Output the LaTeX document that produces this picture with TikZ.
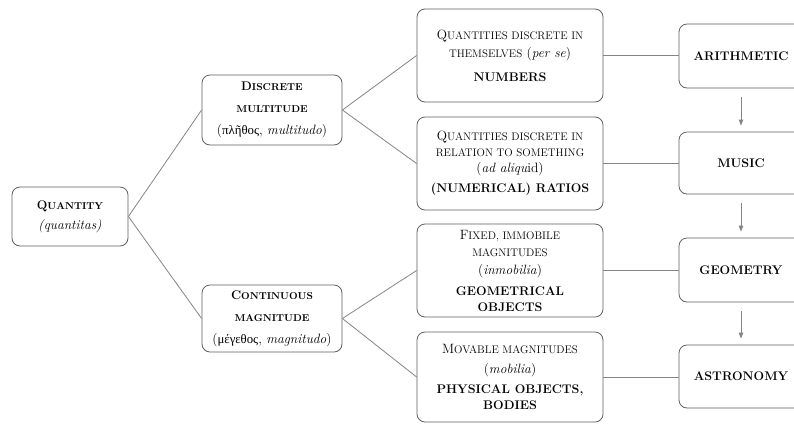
\documentclass[tikz,border=0pt]{standalone}
\usepackage{fontspec}
\newfontfamily\grk{Liberation Serif}[Scale=0.95]
\usetikzlibrary{arrows.meta}
\definecolor{bord}{HTML}{606060}
\definecolor{connc}{HTML}{858585}
\definecolor{txt}{HTML}{000000}
\newcommand\smc[1]{{\fontsize{11}{11}\selectfont #1}}
\newcommand\bsmc[1]{{\fontsize{10}{10}\selectfont #1}}
\newcommand\bcap[1]{{\fontsize{12.5}{14}\selectfont\bfseries #1}}
\begin{document}
\begin{tikzpicture}[x=1pt,y=-1pt,
  box/.style={draw=bord,line width=0.8pt,rounded corners=8pt,align=center,text=txt,inner sep=0pt,font=\fontsize{13.5}{16}\selectfont},
  conn/.style={draw=connc,line width=0.8pt},
  arr/.style={draw=connc,fill=connc,line width=0.8pt,-{Triangle[length=6pt,width=4.5pt]}}]
\useasboundingbox (0,0) rectangle (794,424);
\clip (0,0) rectangle (794,424);
\fill[white] (0,0) rectangle (794,424);

\node[box,minimum width=116pt,minimum height=59pt] (q) at (70,216.5)
  {\bcap{Q\bsmc{UANTITY}}\\[4pt]\textit{(quantitas)}};

\node[box,minimum width=140pt,minimum height=70pt] (d) at (272,110)
  {\bcap{D\bsmc{ISCRETE}}\\[6pt]\bcap{\bsmc{MULTITUDE}}\\[6pt]({\grk πλῆθος}, \textit{multitudo})};
\node[box,minimum width=140pt,minimum height=67pt] (c) at (272,318.5)
  {\bcap{C\bsmc{ONTINUOUS}}\\[6pt]\bcap{\bsmc{MAGNITUDE}}\\[6pt]({\grk μέγεθος}, \textit{magnitudo})};

\node[box,minimum width=186pt,minimum height=93pt] (n) at (510,55.5)
  {Q\smc{UANTITIES DISCRETE IN}\\[2pt]\smc{THEMSELVES} (\textit{per se})\\[8pt]\bcap{NUMBERS}};
\node[box,minimum width=186pt,minimum height=93pt] (r) at (510,163.5)
  {Q\smc{UANTITIES DISCRETE IN}\\\smc{RELATION TO SOMETHING}\\(\textit{ad aliqu}id)\\[4pt]\bcap{(NUMERICAL) RATIOS}};
\node[box,minimum width=186pt,minimum height=93pt] (f) at (510,270.5)
  {F\smc{IXED, IMMOBILE}\\[1pt]\smc{MAGNITUDES}\\[2pt](\textit{inmobilia})\\[5pt]\bcap{GEOMETRICAL}\\\bcap{OBJECTS}};
\node[box,minimum width=186pt,minimum height=90pt] (mv) at (510,377)
  {M\smc{OVABLE MAGNITUDES}\\[4pt](\textit{mobilia})\\[4pt]\bcap{PHYSICAL OBJECTS,}\\\bcap{BODIES}};

\node[box,minimum width=124pt,minimum height=64pt] (ar) at (741,56) {\bcap{ARITHMETIC}};
\node[box,minimum width=124pt,minimum height=62pt] (mu) at (741,163) {\bcap{MUSIC}};
\node[box,minimum width=124pt,minimum height=64pt] (ge) at (741,270) {\bcap{GEOMETRY}};
\node[box,minimum width=124pt,minimum height=63pt] (as) at (741,376.5) {\bcap{ASTRONOMY}};

\draw[conn] (q.east) -- (d.west);
\draw[conn] (q.east) -- (c.west);
\draw[conn] (d.east) -- (n.west);
\draw[conn] (d.east) -- (r.west);
\draw[conn] (c.east) -- (f.west);
\draw[conn] (c.east) -- (mv.west);
\draw[conn] (n.east) -- (n.east -| ar.west);
\draw[conn] (r.east) -- (r.east -| mu.west);
\draw[conn] (f.east) -- (f.east -| ge.west);
\draw[conn] (mv.east) -- (mv.east -| as.west);

\draw[arr,shorten <=9pt,shorten >=6pt] (ar.south) -- (mu.north);
\draw[arr,shorten <=9pt,shorten >=6pt] (mu.south) -- (ge.north);
\draw[arr,shorten <=9pt,shorten >=6pt] (ge.south) -- (as.north);
\end{tikzpicture}
\end{document}
